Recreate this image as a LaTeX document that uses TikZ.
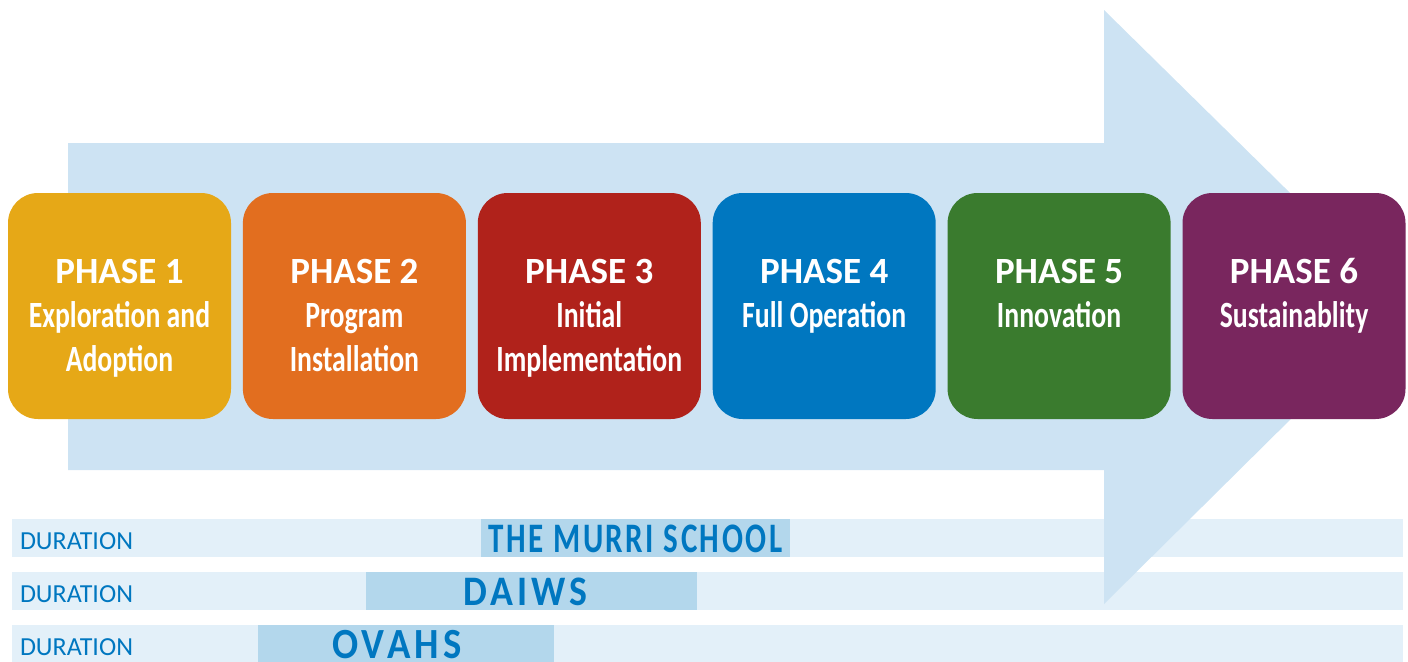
\documentclass[tikz,border=0pt]{standalone}
\usepackage{fontspec}
\setmainfont{Carlito}
\newfontfamily\subfont[FakeStretch=0.75]{Carlito}
\newfontfamily\tagfont[FakeStretch=0.9,LetterSpace=10]{Carlito}
\newfontfamily\murrifont[FakeStretch=0.74,LetterSpace=6]{Carlito}
\usepackage{tikz}
\usetikzlibrary{positioning}

\definecolor{arrowblue}{HTML}{CDE3F3}
\definecolor{bandblue}{HTML}{E3F0F9}
\definecolor{tagblue}{HTML}{B3D7EC}
\definecolor{textblue}{HTML}{0077C0}
\definecolor{phaseone}{HTML}{E6A817}
\definecolor{phasetwo}{HTML}{E26E1F}
\definecolor{phasethree}{HTML}{B0221B}
\definecolor{phasefour}{HTML}{0077C0}
\definecolor{phasefive}{HTML}{3A7B2E}
\definecolor{phasesix}{HTML}{79265E}

\begin{document}
\begin{tikzpicture}[
  phase/.style={rounded corners=30bp, minimum width=223bp, minimum height=226bp, inner sep=0pt,
    text=white, align=center, text height=178bp, text depth=48bp,
    font=\fontsize{37bp}{44bp}\selectfont\bfseries},
  short/.style={text height=134bp, text depth=92bp},
  band/.style={fill=bandblue, minimum width=1391bp, minimum height=38bp, inner xsep=8bp, inner ysep=0pt,
    text width=1375bp, align=left, text height=22bp, text depth=0pt, text=textblue,
    font=\fontsize{26bp}{28bp}\selectfont},
  tag/.style={fill=tagblue, minimum height=38bp, inner sep=0pt, text height=28bp, text depth=0pt,
    text=textblue, font=\fontsize{42bp}{44bp}\tagfont\bfseries}
]
\useasboundingbox (0bp,0bp) rectangle (1408bp,-662bp);

% duration rows
\node (B1) at (707.5bp,-538bp)[band] {DURATION};
\node (B2) at (707.5bp,-591bp)[band] {DURATION};
\node (B3) at (707.5bp,-644bp)[band] {DURATION};

% big arrow behind the phases
\fill[arrowblue] (68bp,-143bp) -- (1104bp,-143bp) -- (1104bp,-10bp) -- (1405bp,-306bp)
  -- (1104bp,-604bp) -- (1104bp,-470bp) -- (68bp,-470bp) -- cycle;

% phases
\node (P1) at (119.5bp,-306bp)[phase, fill=phaseone] {PHASE 1\\{\subfont Exploration and}\\{\subfont Adoption}};
\node (P2) [phase, fill=phasetwo, right=11.5bp of P1] {PHASE 2\\{\subfont Program}\\{\subfont Installation}};
\node (P3) [phase, fill=phasethree, right=11.5bp of P2] {PHASE 3\\{\subfont Initial}\\{\subfont Implementation}};
\node (P4) [phase, short, fill=phasefour, right=11.5bp of P3] {PHASE 4\\{\subfont Full Operation}};
\node (P5) [phase, short, fill=phasefive, right=11.5bp of P4] {PHASE 5\\{\subfont Innovation}};
\node (P6) [phase, short, fill=phasesix, right=11.5bp of P5] {PHASE 6\\{\subfont Sustainablity}};

% durations
\node (T1) at (635.5bp,-538bp)[tag, minimum width=309bp] {{\murrifont THE MURRI SCHOOL}};
\node (T2) at (531.5bp,-591bp)[tag, minimum width=331bp] {DAIWS\hspace*{12bp}};
\node (T3) at (406bp,-644bp)[tag, minimum width=296bp, font=\fontsize{43bp}{44bp}\tagfont\bfseries] {OVAHS\hspace*{18bp}};
\end{tikzpicture}
\end{document}
